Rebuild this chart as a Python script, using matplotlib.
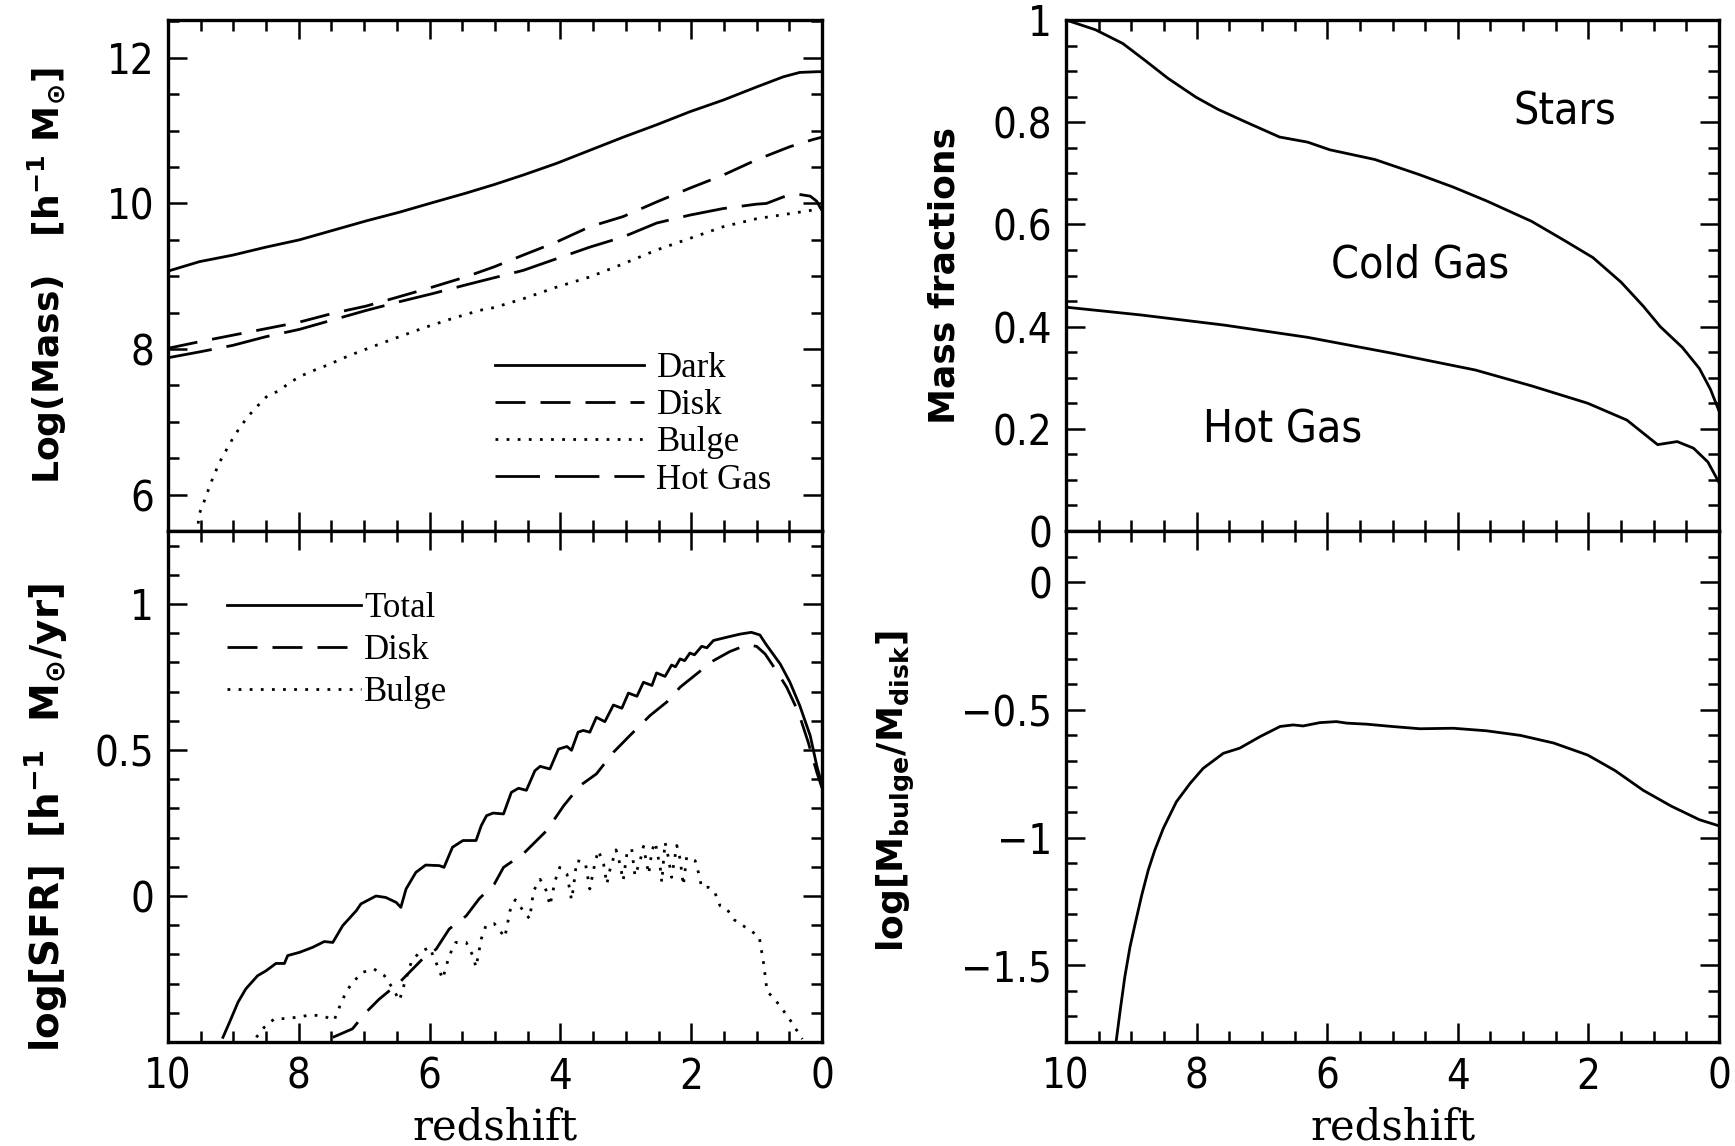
import matplotlib
matplotlib.use("Agg")
import matplotlib.pyplot as plt
from matplotlib import font_manager
from matplotlib.ticker import MultipleLocator, FixedLocator, FuncFormatter

plt.rcParams['mathtext.default'] = 'bf'

# ---- data ----
# top left: log mass vs redshift
z_dark = [10, 9.52, 9.01, 8.50, 7.99, 7.48, 6.97, 6.46, 5.96, 5.45, 5.01, 4.57, 4.06, 3.55, 3.04,
          2.53, 2.02, 1.51, 1.00, 0.59, 0.34, 0.06, 0]
m_dark = [9.07, 9.20, 9.29, 9.40, 9.50, 9.63, 9.76, 9.88, 10.01, 10.14, 10.26, 10.39, 10.55, 10.73, 10.91,
          11.08, 11.26, 11.42, 11.60, 11.74, 11.80, 11.81, 11.81]

z_disk = [10, 9.52, 9.01, 8.50, 7.99, 7.48, 6.97, 6.46, 5.96, 5.45, 5.01, 4.57, 4.06, 3.55, 3.04,
          2.53, 2.02, 1.51, 1.00, 0.49, 0.13, 0]
m_disk = [8.01, 8.10, 8.19, 8.28, 8.37, 8.49, 8.59, 8.72, 8.85, 8.99, 9.13, 9.29, 9.47, 9.68, 9.82,
          10.02, 10.21, 10.39, 10.60, 10.78, 10.88, 10.91]

z_hot = [10, 9.52, 9.01, 8.50, 7.99, 7.48, 6.97, 6.46, 5.96, 5.45, 5.01, 4.57, 4.06, 3.55, 3.04,
         2.53, 2.02, 1.51, 1.00, 0.85, 0.59, 0.39, 0.18, 0.08, 0.02]
m_hot = [7.88, 7.96, 8.05, 8.17, 8.27, 8.40, 8.53, 8.65, 8.76, 8.88, 8.98, 9.08, 9.24, 9.40, 9.54,
         9.73, 9.84, 9.93, 9.99, 10.0, 10.09, 10.13, 10.10, 10.03, 9.93]

z_bulge = [9.56, 9.52, 9.45, 9.34, 9.22, 9.11, 9.01, 8.91, 8.78, 8.65, 8.50, 8.30, 8.12, 7.94, 7.76,
           7.56, 7.23, 6.82, 6.46, 6.06, 5.65, 5.24, 5.01, 4.57, 4.06, 3.55, 3.04, 2.53, 2.02, 1.51,
           1.00, 0.49, 0.06, 0]
m_bulge = [5.45, 5.74, 5.90, 6.17, 6.43, 6.61, 6.77, 6.91, 7.07, 7.20, 7.34, 7.43, 7.55, 7.64, 7.71,
           7.78, 7.91, 8.05, 8.17, 8.30, 8.42, 8.53, 8.57, 8.69, 8.85, 8.99, 9.17, 9.36, 9.52, 9.68,
           9.79, 9.86, 9.92, 9.92]

# bottom left: log SFR vs redshift
z_sfr_tot = [9.16, 9.06, 8.93, 8.81, 8.63, 8.50, 8.35, 8.22, 8.17, 7.99, 7.79, 7.61, 7.48, 7.33, 7.12,
             7.05, 6.82, 6.67, 6.51, 6.44, 6.36, 6.21, 6.06, 5.85, 5.78, 5.65, 5.49, 5.37, 5.29, 5.21,
             5.13, 5.03, 4.87, 4.75, 4.64, 4.52, 4.39, 4.31, 4.16, 4.03, 3.90, 3.83, 3.73, 3.65, 3.55,
             3.45, 3.32, 3.19, 3.06, 2.96, 2.83, 2.73, 2.60, 2.53, 2.40, 2.30, 2.24, 2.17, 2.10, 2.02,
             1.95, 1.84, 1.76, 1.66, 1.46, 1.25, 1.08, 0.95, 0.85, 0.64, 0.49, 0.34, 0.18, 0.08, 0.0]
sfr_tot = [-0.484, -0.433, -0.364, -0.318, -0.273, -0.256, -0.231, -0.231, -0.204, -0.193, -0.176, -0.156, -0.159, -0.102, -0.050,
           -0.027, 0.0, -0.005, -0.022, -0.039, 0.024, 0.081, 0.106, 0.104, 0.098, 0.167, 0.19, 0.19, 0.19, 0.241,
           0.275, 0.284, 0.281, 0.355, 0.369, 0.362, 0.429, 0.444, 0.435, 0.503, 0.512, 0.499, 0.561, 0.567, 0.561,
           0.612, 0.597, 0.654, 0.643, 0.695, 0.684, 0.732, 0.721, 0.764, 0.752, 0.791, 0.785, 0.812, 0.806, 0.832,
           0.826, 0.855, 0.850, 0.875, 0.886, 0.897, 0.903, 0.894, 0.860, 0.795, 0.732, 0.652, 0.549, 0.446, 0.38]

z_sfr_disk = [7.48, 7.18, 6.97, 6.77, 6.46, 6.36, 6.11, 5.90, 5.70, 5.44, 5.24, 5.01, 4.87, 4.57, 4.21,
              3.95, 3.70, 3.45, 3.19, 2.94, 2.63, 2.37, 2.17, 1.92, 1.66, 1.41, 1.15, 1.00, 0.87, 0.70,
              0.54, 0.36, 0.21, 0.08, 0.0]
sfr_disk = [-0.484, -0.455, -0.398, -0.353, -0.296, -0.273, -0.216, -0.182, -0.113, -0.068, -0.009, 0.041, 0.098, 0.144, 0.224,
            0.309, 0.378, 0.418, 0.492, 0.549, 0.618, 0.665, 0.715, 0.760, 0.806, 0.837, 0.860, 0.855, 0.829, 0.772,
            0.715, 0.629, 0.526, 0.424, 0.37]

z_sfr_bul = [8.65, 8.53, 8.37, 8.22, 8.02, 7.81, 7.61, 7.46, 7.38, 7.28, 7.18, 7.02, 6.85, 6.69, 6.56,
             6.46, 6.41, 6.28, 6.16, 6.00, 5.88, 5.80, 5.70, 5.60, 5.44, 5.34, 5.29, 5.21, 5.14, 5.01,
             4.92, 4.85, 4.77, 4.69, 4.57, 4.47, 4.41, 4.31, 4.21, 4.16, 4.08, 4.01, 3.90, 3.83, 3.80,
             3.75, 3.62, 3.55, 3.47, 3.42, 3.34, 3.29, 3.24, 3.15, 3.09, 3.04, 2.98, 2.91, 2.86, 2.78,
             2.73, 2.65, 2.60, 2.55, 2.47, 2.45, 2.40, 2.35, 2.30, 2.22, 2.17, 2.12, 2.07, 1.94, 1.89,
             1.84, 1.74, 1.64, 1.56, 1.46, 1.34, 1.15, 0.96, 0.89, 0.84, 0.70, 0.51, 0.30]
sfr_bul = [-0.484, -0.45, -0.42, -0.42, -0.415, -0.407, -0.412, -0.426, -0.381, -0.33, -0.296, -0.261, -0.25, -0.273, -0.318,
           -0.358, -0.318, -0.227, -0.193, -0.176, -0.239, -0.284, -0.204, -0.159, -0.159, -0.204, -0.244, -0.147, -0.102, -0.095,
           -0.12, -0.142, -0.05, -0.013, -0.05, -0.078, 0.018, 0.057, 0.016, -0.033, 0.053, 0.098, 0.075, -0.013, 0.03,
           0.121, 0.115, 0.024, 0.115, 0.156, 0.11, 0.041, 0.092, 0.158, 0.110, 0.053, 0.150, 0.162, 0.069, 0.121,
           0.170, 0.075, 0.156, 0.184, 0.092, 0.047, 0.184, 0.133, 0.064, 0.173, 0.127, 0.036, 0.133, 0.121, 0.081,
           0.03, 0.03, 0.013, -0.033, -0.043, -0.082, -0.11, -0.139, -0.235, -0.326, -0.36, -0.417, -0.49]

# top right: mass fractions
z_frac_up = [10, 9.55, 9.13, 8.78, 8.44, 8.01, 7.67, 7.24, 6.73, 6.30, 5.96, 5.27, 4.58, 4.07, 3.56,
             2.87, 2.36, 1.93, 1.50, 1.16, 0.90, 0.56, 0.30, 0.13, 0]
frac_up = [1.0, 0.981, 0.954, 0.92, 0.886, 0.849, 0.825, 0.80, 0.771, 0.761, 0.746, 0.727, 0.697, 0.673, 0.646,
           0.606, 0.568, 0.535, 0.487, 0.44, 0.40, 0.359, 0.318, 0.277, 0.235]

z_frac_lo = [10, 8.87, 7.58, 6.30, 5.01, 3.73, 2.87, 2.01, 1.41, 0.94, 0.64, 0.39, 0.17, 0]
frac_lo = [0.438, 0.423, 0.403, 0.379, 0.348, 0.315, 0.284, 0.25, 0.217, 0.169, 0.175, 0.162, 0.135, 0.095]

# bottom right: bulge to disk ratio
z_ratio = [9.23, 9.17, 9.10, 9.02, 8.94, 8.84, 8.74, 8.64, 8.51, 8.31, 8.10, 7.90, 7.59, 7.34, 7.03,
           6.72, 6.52, 6.37, 6.11, 5.86, 5.70, 5.40, 5.01, 4.58, 4.07, 3.56, 3.04, 2.53, 2.01, 1.59,
           1.16, 0.73, 0.30, 0]
ratio = [-1.794, -1.676, -1.546, -1.428, -1.336, -1.225, -1.127, -1.049, -0.964, -0.860, -0.788, -0.729, -0.670, -0.650, -0.605,
         -0.565, -0.559, -0.563, -0.550, -0.546, -0.552, -0.556, -0.565, -0.574, -0.572, -0.582, -0.60, -0.63, -0.677, -0.738,
         -0.815, -0.877, -0.93, -0.954]

# narrow sans for numbers if one is installed
names = {f.name for f in font_manager.fontManager.ttflist}
if 'Liberation Sans Narrow' in names:
    NUMFONT = dict(family='Liberation Sans Narrow')
elif any(f.name == 'DejaVu Sans' and f.stretch == 'condensed' for f in font_manager.fontManager.ttflist):
    NUMFONT = dict(family='DejaVu Sans', stretch='condensed')
else:
    NUMFONT = dict(family='Liberation Sans')
LEGFONT = ['Liberation Serif', 'DejaVu Serif']

SOLID = '-'
DASH = (0, (10.8, 5.4))
LDASH = (0, (16, 5.4))
DOT = (0, (1, 3))
LW = 2.0


def fmt(v, pos):
    return ('%g' % v).replace('-', '\u2212')


def style(ax, ymaj, ymin, xlabels):
    ax.set_xlim(10, 0)
    ax.xaxis.set_major_locator(MultipleLocator(2))
    ax.xaxis.set_minor_locator(MultipleLocator(0.5))
    ax.yaxis.set_major_locator(FixedLocator(ymaj))
    ax.yaxis.set_minor_locator(MultipleLocator(ymin))
    ax.yaxis.set_major_formatter(FuncFormatter(fmt))
    ax.xaxis.set_major_formatter(FuncFormatter(fmt))
    ax.tick_params(which='both', direction='in', top=True, right=True, width=1.8)
    ax.tick_params(which='major', length=14)
    ax.tick_params(which='minor', length=8)
    ax.tick_params(labelsize=30, pad=10)
    if not xlabels:
        ax.tick_params(labelbottom=False)
    for lab in ax.get_xticklabels() + ax.get_yticklabels():
        lab.set(**NUMFONT)
    for sp in ax.spines.values():
        sp.set_linewidth(2.4)


fig = plt.figure(figsize=(17.35, 11.46), dpi=100)
L, W = 168 / 1735, 654 / 1735
R, WR = 1066 / 1735, 653 / 1735
B1, H1 = 1 - 531 / 1146, 511 / 1146
B2, H2 = 1 - 1042 / 1146, 511 / 1146

ax1 = fig.add_axes([L, B1, W, H1])
ax2 = fig.add_axes([L, B2, W, H2])
ax3 = fig.add_axes([R, B1, WR, H1])
ax4 = fig.add_axes([R, B2, WR, H2])

# panel 1
ax1.plot(z_dark, m_dark, color='black', lw=LW, ls=SOLID, label='Dark')
ax1.plot(z_disk, m_disk, color='black', lw=LW, ls=DASH, label='Disk')
ax1.plot(z_bulge, m_bulge, color='black', lw=LW, ls=DOT, label='Bulge')
ax1.plot(z_hot, m_hot, color='black', lw=LW, ls=LDASH, label='Hot Gas')
ax1.set_ylim(5.5, 12.52)
style(ax1, [6, 8, 10, 12], 0.5, False)
ax1.set_ylabel('Log(Mass)   [h$^{-1}$ M$_{\\odot}$]', fontsize=26, fontweight='bold')
ax1.yaxis.set_label_coords(-0.152, 0.5)
ax1.legend(loc='upper left', bbox_to_anchor=(0.50, 0.35), frameon=False, handlelength=4.3,
           handletextpad=0.35, labelspacing=0.12, borderpad=0, borderaxespad=0,
           prop={'family': LEGFONT, 'size': 25})

# panel 2
ax2.plot(z_sfr_tot, sfr_tot, color='black', lw=LW, ls=SOLID, label='Total')
ax2.plot(z_sfr_disk, sfr_disk, color='black', lw=LW, ls=DASH, label='Disk')
ax2.plot(z_sfr_bul, sfr_bul, color='black', lw=LW, ls=DOT, label='Bulge')
ax2.set_ylim(-0.5, 1.25)
style(ax2, [0, 0.5, 1], 0.1, True)
ax2.set_ylabel('log[SFR]  [h$^{-1}$  M$_{\\odot}$/yr]', fontsize=28, fontweight='bold')
ax2.yaxis.set_label_coords(-0.152, 0.44)
ax2.set_xlabel('redshift', fontsize=30, family='DejaVu Serif', labelpad=6)
ax2.legend(loc='upper left', bbox_to_anchor=(0.09, 0.88), frameon=False, handlelength=3.85,
           handletextpad=0.1, labelspacing=0.26, borderpad=0, borderaxespad=0,
           prop={'family': LEGFONT, 'size': 25})

# panel 3
ax3.plot(z_frac_up, frac_up, color='black', lw=LW)
ax3.plot(z_frac_lo, frac_lo, color='black', lw=LW)
ax3.set_ylim(0, 1)
style(ax3, [0, 0.2, 0.4, 0.6, 0.8, 1], 0.05, False)
ax3.set_ylabel('Mass fractions', fontsize=26, fontweight='bold')
ax3.yaxis.set_label_coords(-0.16, 0.5)
for txt, zx, yy in [('Stars', 2.36, 0.82), ('Cold Gas', 4.57, 0.52), ('Hot Gas', 6.69, 0.198)]:
    ax3.text(zx, yy, txt, ha='center', va='center', fontsize=32, **NUMFONT)

# panel 4
ax4.plot(z_ratio, ratio, color='black', lw=LW)
ax4.set_ylim(-1.8, 0.2)
style(ax4, [-1.5, -1, -0.5, 0], 0.1, True)
ax4.set_ylabel('log[M$_{\\mathbf{bulge}}$/M$_{\\mathbf{disk}}$]', fontsize=26, fontweight='bold')
ax4.yaxis.set_label_coords(-0.228, 0.49)
ax4.set_xlabel('redshift', fontsize=30, family='DejaVu Serif', labelpad=6)

fig.savefig('out.png', dpi=100)
